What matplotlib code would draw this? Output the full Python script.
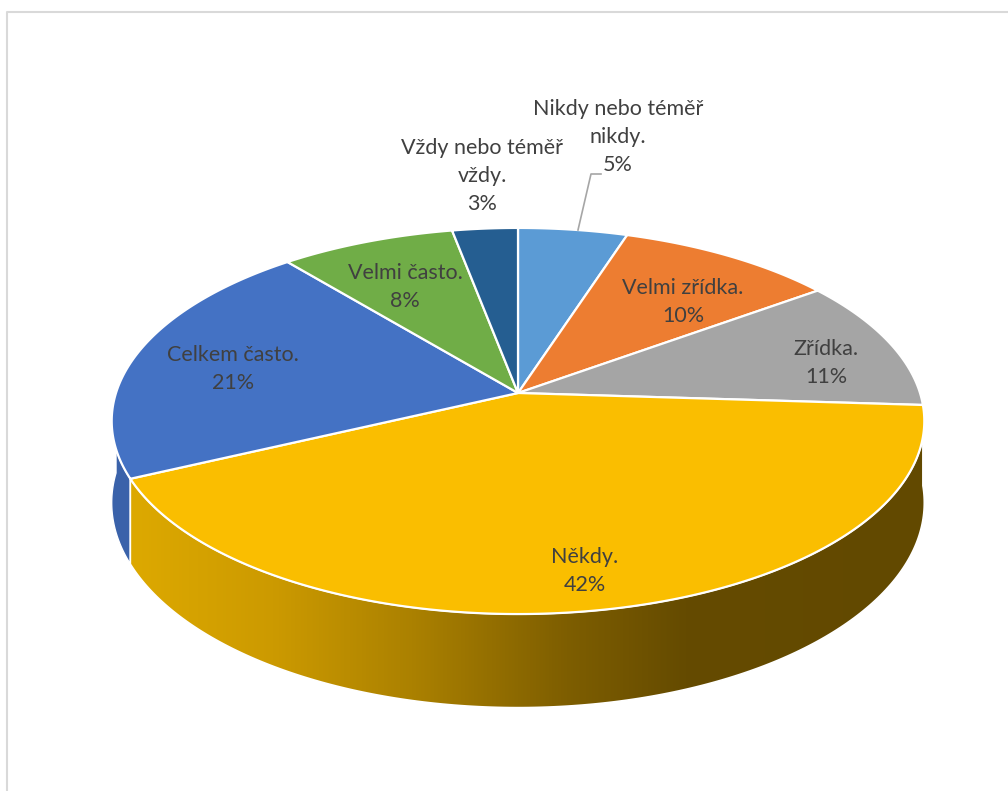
import numpy as np
import matplotlib
matplotlib.use("Agg")
import matplotlib.pyplot as plt
from matplotlib.patches import Polygon
from matplotlib.colors import LinearSegmentedColormap

# odpovědi a jejich podíly (%), pořadí po směru hodinových ručiček od 12 hodin
labels = ["Nikdy nebo téměř\nnikdy.", "Velmi zřídka.", "Zřídka.", "Někdy.",
          "Celkem často.", "Velmi často.", "Vždy nebo téměř\nvždy."]
values = [5, 10, 11, 42, 21, 8, 3]
top_colors = ["#5B9BD5", "#ED7D31", "#A5A5A5", "#FABE00", "#4472C4", "#70AD47", "#255E91"]
side_colors = ["#4A80B5", "#C0611F", "#8C8C8C", None, "#3A62AA", "#5A8F38", "#1D4B75"]
# popisky (stred v pixelech)
label_pos = [(618, 137), (683, 302), (826, 363), (585, 571), (233, 369), (405, 287), (482, 176)]

W, H = 1008, 791
cx, cy = 518, 393          # vrchol koláče
a, b, k = 402, 189, 0.145  # poloosy a perspektiva
depth = 80

fig = plt.figure(figsize=(W / 100, H / 100), dpi=100)
ax = fig.add_axes([0, 0, 1, 1])
ax.set_xlim(0, W)
ax.set_ylim(H, 0)
ax.axis("off")

# ramecek grafu
ax.plot([6.5, 6.5, W], [H, 11.5, 11.5], color="#D9D9D9", lw=1.5, zorder=0)


def proj(theta, r=1.0):
    # uhel ve stupnich od 12 hodin po smeru hodin -> pixely
    t = np.radians(theta)
    x = r * np.sin(t)
    y = -r * np.cos(t)
    s = 1.0 / (1 - k * y)
    return cx + a * x * s, cy + b * y * s, s


bounds = np.concatenate([[0], np.cumsum(values)]) / sum(values) * 360

# bocni steny - jen predni polovina (90..270 stupnu)
for i in range(len(values)):
    t0, t1 = max(bounds[i], 90), min(bounds[i + 1], 270)
    if t1 <= t0:
        continue
    th = np.linspace(t0, t1, 200)
    X, Y, S = proj(th)
    Yb = Y + depth * S
    pts = np.column_stack([np.concatenate([X, X[::-1]]),
                           np.concatenate([Y, Yb[::-1]])])
    if side_colors[i] is None:
        poly = Polygon(pts, closed=True, facecolor="none", edgecolor="white", lw=1.2, zorder=3)
        ax.add_patch(poly)
        cmap = LinearSegmentedColormap.from_list(
            "side", [(0.0, "#DDA900"), (0.18, "#CC9A00"), (0.36, "#AA8000"),
                     (0.55, "#7E5E00"), (0.7, "#654B00"), (1.0, "#624900")])
        grad = np.linspace(0, 1, 512).reshape(1, -1)
        im = ax.imshow(grad, cmap=cmap, aspect="auto",
                       extent=[X.min(), X.max(), Yb.max(), Y.min()], zorder=2)
        im.set_clip_path(poly)
    else:
        ax.add_patch(Polygon(pts, closed=True, facecolor=side_colors[i],
                             edgecolor="white", lw=1.0, zorder=2))

# horni plochy vysecí
for i in range(len(values)):
    th = np.linspace(bounds[i], bounds[i + 1], 300)
    X, Y, _ = proj(th)
    pts = np.column_stack([np.concatenate([[cx], X]), np.concatenate([[cy], Y])])
    ax.add_patch(Polygon(pts, closed=True, facecolor=top_colors[i],
                         edgecolor="white", lw=1.6, joinstyle="round", zorder=4))

# popisky s procenty
for i, (lab, v) in enumerate(zip(labels, values)):
    x, y = label_pos[i]
    ax.text(x, y, f"{lab}\n{v}%", ha="center", va="center", fontsize=15.5,
            family=["Lato", "DejaVu Sans"], color="#404040", linespacing=1.5, zorder=6)

# vodici cara k nejmensi vyseci
ax.plot([578, 591, 601], [230, 174, 174], color="#A6A6A6", lw=1.2, zorder=5)

fig.savefig("out.png", dpi=100)
